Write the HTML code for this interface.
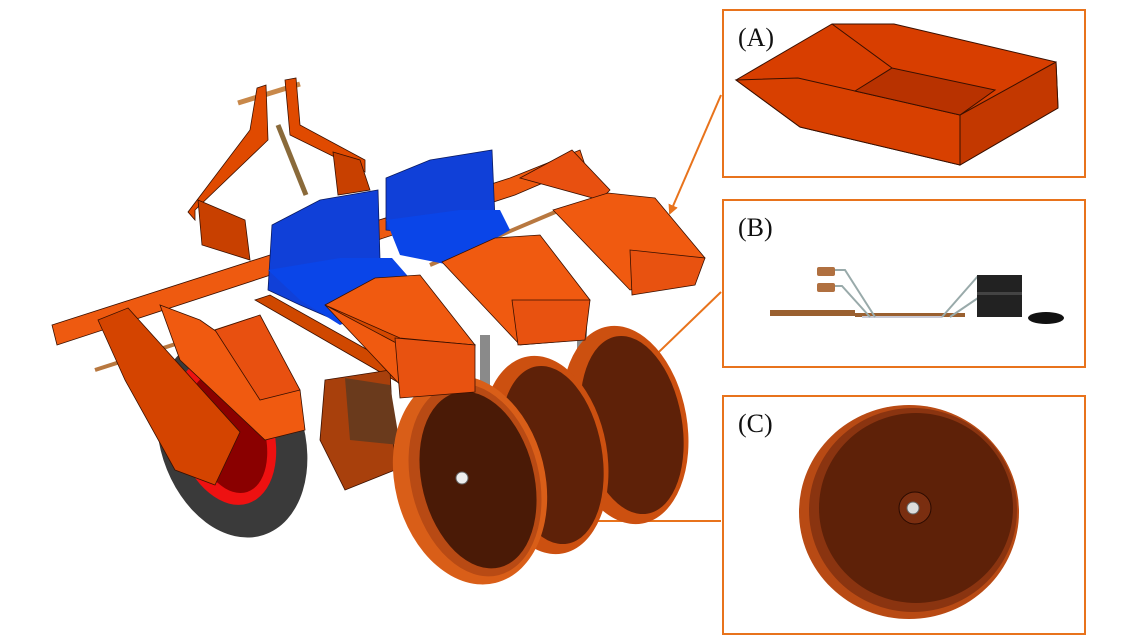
<!DOCTYPE html>
<html><head><style>
html,body{margin:0;padding:0;background:#fff;width:1122px;height:644px;overflow:hidden}
svg{display:block}
text{font-family:"Liberation Serif",serif;font-size:26px;fill:#111}
</style></head><body>
<svg width="1122" height="644" viewBox="0 0 1122 644" xmlns="http://www.w3.org/2000/svg">
<defs>
<marker id="ah" markerWidth="10" markerHeight="10" refX="8" refY="5" orient="auto" markerUnits="userSpaceOnUse">
<path d="M0,0 L10,5 L0,10 z" fill="#e8731c"/></marker>
</defs>

<rect x="723" y="10" width="362" height="167" fill="none" stroke="#e8731c" stroke-width="2"/>
<rect x="723" y="200" width="362" height="167" fill="none" stroke="#e8731c" stroke-width="2"/>
<rect x="723" y="396" width="362" height="238" fill="none" stroke="#e8731c" stroke-width="2"/>
<text x="738" y="46">(A)</text>
<text x="738" y="236">(B)</text>
<text x="738" y="432">(C)</text>

<line x1="721" y1="95" x2="670" y2="213" stroke="#e8731c" stroke-width="2" marker-end="url(#ah)"/>
<line x1="721" y1="292" x2="634" y2="376" stroke="#e8731c" stroke-width="2" marker-end="url(#ah)"/>
<line x1="721" y1="521" x2="586" y2="521" stroke="#e8731c" stroke-width="2" marker-end="url(#ah)"/>

<!-- (A) hopper -->
<polygon points="736,80 832,24 894,24 1056,62 1058,108 960,165 800,127" fill="#d83e00" stroke="#3a1000" stroke-width="1"/>
<polygon points="736,80 798,78 960,115 960,165 800,127" fill="#d84000" stroke="#3a1000" stroke-width="1"/>
<polygon points="960,115 1056,62 1058,108 960,165" fill="#c33800" stroke="#3a1000" stroke-width="1"/>
<polygon points="855,91 892,68 995,90 960,115" fill="#b83200" stroke="#3a1000" stroke-width="1"/>
<line x1="832" y1="24" x2="892" y2="68" stroke="#3a1000"/>

<!-- (B) -->
<rect x="770" y="310" width="85" height="6" fill="#9a6030"/>
<rect x="855" y="313" width="110" height="4" fill="#9a6030"/>
<rect x="862" y="316" width="80" height="2" fill="#c9c9d4"/>
<rect x="817" y="267" width="18" height="9" fill="#b07040" rx="2"/>
<rect x="817" y="283" width="18" height="9" fill="#b07040" rx="2"/>
<polyline points="835,270 845,270 875,317" fill="none" stroke="#9aa" stroke-width="2"/>
<polyline points="835,286 842,286 870,317" fill="none" stroke="#9aa" stroke-width="2"/>
<polyline points="978,276 942,317" fill="none" stroke="#9aa" stroke-width="2"/>
<polyline points="978,298 950,317" fill="none" stroke="#9aa" stroke-width="2"/>
<rect x="977" y="275" width="45" height="42" fill="#222"/>
<rect x="977" y="292" width="45" height="3" fill="#444"/>
<ellipse cx="1046" cy="318" rx="18" ry="6" fill="#111"/>

<!-- (C) -->
<ellipse cx="909" cy="512" rx="110" ry="107" fill="#b84a14"/>
<ellipse cx="913" cy="510" rx="104" ry="102" fill="#8a3410"/>
<ellipse cx="916" cy="508" rx="97" ry="95" fill="#5e2108"/>
<circle cx="915" cy="508" r="16" fill="#7a2e10" stroke="#2a0a00"/>
<circle cx="913" cy="508" r="6" fill="#ddd" stroke="#666"/>

<!-- main machine -->
<line x1="238" y1="103" x2="300" y2="84" stroke="#c8884a" stroke-width="5"/>
<polygon points="257,88 266,85 268,140 195,210 195,220 188,212 250,130" fill="#e04a00" stroke="#3a1000" stroke-width="0.8"/>
<polygon points="285,80 296,78 300,125 365,160 365,172 290,135" fill="#e04a00" stroke="#3a1000" stroke-width="0.8"/>
<line x1="278" y1="125" x2="306" y2="195" stroke="#8a6a3a" stroke-width="5"/>
<polygon points="198,200 245,220 250,260 202,245" fill="#c84000" stroke="#3a1000" stroke-width="0.8"/>
<polygon points="333,152 360,160 370,190 338,195" fill="#c84000" stroke="#3a1000" stroke-width="0.8"/>
<polygon points="52,325 510,178 580,150 585,165 515,195 57,345" fill="#ee5a10" stroke="#3a1000" stroke-width="0.8"/>
<polygon points="520,178 572,150 610,190 600,200" fill="#e85010" stroke="#3a1000" stroke-width="0.8"/>
<line x1="95" y1="370" x2="250" y2="320" stroke="#b87840" stroke-width="4"/>
<line x1="430" y1="265" x2="560" y2="210" stroke="#b87840" stroke-width="4"/>
<polygon points="255,300 270,295 430,385 420,395" fill="#d04800" stroke="#3a1000" stroke-width="0.8"/>

<ellipse cx="232" cy="438" rx="72" ry="102" fill="#3a3a3a" transform="rotate(-18 232 438)"/>
<ellipse cx="225" cy="432" rx="48" ry="75" fill="#e11" transform="rotate(-18 225 432)"/>
<ellipse cx="228" cy="433" rx="36" ry="62" fill="#8a0000" transform="rotate(-18 228 433)"/>
<circle cx="216" cy="437" r="8" fill="#ddd" stroke="#555"/>
<polygon points="98,320 128,308 240,432 215,485 175,470 125,380" fill="#d44400" stroke="#3a1000" stroke-width="0.8"/>
<polygon points="160,305 200,320 300,390 305,430 265,440 180,360" fill="#f05a10" stroke="#3a1000" stroke-width="0.8"/>
<polygon points="215,330 260,315 300,390 260,400" fill="#e85010" stroke="#3a1000" stroke-width="0.8"/>

<polygon points="325,380 390,370 395,470 345,490 320,440" fill="#a8400c" stroke="#3a1000" stroke-width="0.8"/>
<polygon points="345,378 390,385 400,445 350,440" fill="#6a3a1c"/>

<polygon points="272,225 320,200 378,190 380,260 335,320 300,305 268,290" fill="#1040d8" stroke="#0a1a60" stroke-width="0.8"/>
<polygon points="268,270 340,258 392,258 420,290 340,325 300,300" fill="#0a45e8"/>
<polygon points="386,178 430,160 492,150 495,220 440,235 386,230" fill="#1040d8" stroke="#0a1a60" stroke-width="0.8"/>
<polygon points="386,220 460,210 500,210 510,230 450,265 400,255" fill="#0a45e8"/>

<rect x="480" y="335" width="10" height="110" fill="#8a8a8a"/>
<rect x="577" y="320" width="10" height="110" fill="#8a8a8a"/>
<ellipse cx="625" cy="425" rx="62" ry="100" fill="#cc5010" transform="rotate(-10 625 425)"/>
<ellipse cx="632" cy="425" rx="50" ry="90" fill="#5e2108" transform="rotate(-10 632 425)"/>
<ellipse cx="545" cy="455" rx="62" ry="100" fill="#cc5010" transform="rotate(-10 545 455)"/>
<ellipse cx="552" cy="455" rx="50" ry="90" fill="#5e2108" transform="rotate(-10 552 455)"/>
<rect x="420" y="360" width="20" height="100" fill="#a0704a"/>
<ellipse cx="470" cy="480" rx="75" ry="106" fill="#d95e18" transform="rotate(-14 470 480)"/>
<ellipse cx="475" cy="480" rx="64" ry="98" fill="#b84a14" transform="rotate(-14 475 480)"/>
<ellipse cx="478" cy="480" rx="56" ry="90" fill="#4a1a06" transform="rotate(-14 478 480)"/>
<circle cx="462" cy="478" r="6" fill="#eee" stroke="#666"/>

<g stroke="#3a1000" stroke-width="0.8">
<polygon points="325,305 375,278 420,275 475,345 470,390 405,390" fill="#f05a10"/>
<polygon points="325,305 400,338 475,345 405,390 400,345" fill="#d44800"/>
<polygon points="395,338 475,345 475,392 400,398" fill="#e85210"/>
<polygon points="442,262 495,238 540,235 590,300 580,340 520,345" fill="#f05a10"/>
<polygon points="512,300 590,300 585,340 518,345" fill="#e85210"/>
<polygon points="553,210 608,193 655,198 705,258 690,278 630,290" fill="#f05a10"/>
<polygon points="630,250 705,258 695,285 632,295" fill="#e85210"/>
</g>
</svg>
</body></html>
